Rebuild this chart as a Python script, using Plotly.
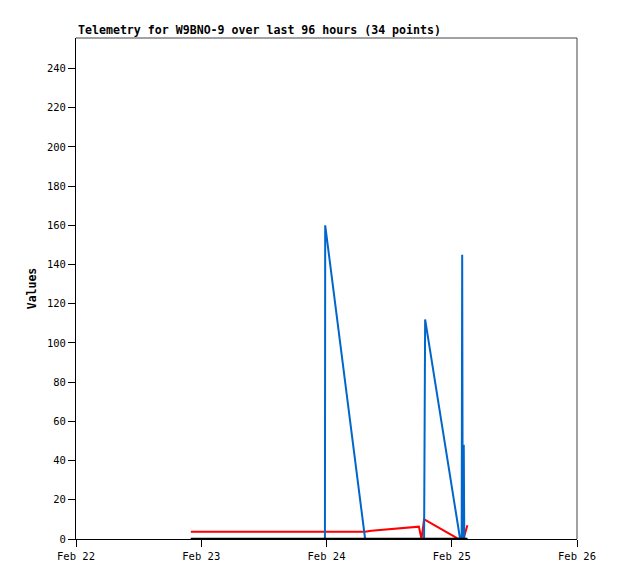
import plotly.graph_objects as go
from datetime import datetime, timedelta

# hours since 2025-02-22 00:00
hours = [22.0, 26.0, 30.0, 34.0, 38.0, 42.0, 46.0, 47.7, 47.75, 48.2,
         50.0, 52.0, 55.4, 56.6, 59.0, 61.7, 63.9, 65.7, 66.2, 66.7,
         66.9, 68.5, 70.0, 71.5, 73.1, 73.6, 73.9, 74.0, 74.1, 74.25,
         74.3, 74.4, 74.7, 75.0]
blue_vals = [0, 0, 0, 0, 0, 0, 0, 0, 160, 150.6,
             112.9, 71.1, 0, 0, 0, 0, 0, 0, 0, 0,
             112, 85.3, 60.2, 35.1, 8.4, 0, 0, 145, 0, 0,
             48, 0, 0, 0]
red_vals = [3.7, 3.7, 3.7, 3.7, 3.7, 3.7, 3.7, 3.7, 3.7, 3.7,
            3.7, 3.7, 3.7, 4.2, 4.8, 5.3, 5.8, 6.3, 0, 10,
            9.7, 7.3, 5.0, 2.7, 0.3, 0, 0, 0, 0, 0,
            0.5, 1.5, 4.5, 7]
black_vals = [0] * len(hours)

title_text = "Telemetry for W9BNO-9 over last 96 hours (34 points)"
y_label = "Values"
x_start = "2025-02-22"
x_end = "2025-02-26"

base = datetime(2025, 2, 22)
times = [base + timedelta(hours=h) for h in hours]

fig = go.Figure()
fig.add_trace(go.Scatter(x=times, y=red_vals, mode="lines",
                         line=dict(color="#ff0000", width=2), showlegend=False))
fig.add_trace(go.Scatter(x=times, y=blue_vals, mode="lines",
                         line=dict(color="#0066cc", width=2), showlegend=False))
fig.add_trace(go.Scatter(x=times, y=black_vals, mode="lines",
                         line=dict(color="#000000", width=2.5), showlegend=False))

mono = "DejaVu Sans Mono"
fig.update_layout(
    width=610, height=571,
    margin=dict(l=68, r=41, t=30, b=40),
    paper_bgcolor="white", plot_bgcolor="white",
    font=dict(family=mono, size=10.5, color="black"),
    xaxis=dict(
        type="date", range=[x_start, x_end], dtick=86400000,
        tickformat="%b %d", showgrid=False, zeroline=False,
        ticks="outside", ticklen=7, tickcolor="black",
        showline=True, linecolor="black", linewidth=1,
        tickfont=dict(family=mono, size=10.5), automargin=False,
    ),
    yaxis=dict(
        range=[0, 255.5], tick0=0, dtick=20, showgrid=False, zeroline=False,
        ticks="outside", ticklen=7, tickcolor="black",
        showline=True, linecolor="black", linewidth=1,
        tickfont=dict(family=mono, size=10.5), automargin=False,
        title=dict(text="<b>" + y_label + "</b>", font=dict(family=mono, size=11.5), standoff=7),
    ),
    shapes=[
        dict(type="line", xref="paper", yref="paper", x0=0, x1=1, y0=1, y1=1,
             line=dict(color="#444444", width=1)),
        dict(type="line", xref="paper", yref="paper", x0=1, x1=1, y0=0, y1=1,
             line=dict(color="#444444", width=1)),
    ],
    annotations=[
        dict(text="<b>" + title_text + "</b>", xref="paper", yref="paper",
             x=0, y=1, xanchor="left", yanchor="bottom", showarrow=False,
             font=dict(family=mono, size=11.6, color="black"), yshift=-1),
    ],
)

fig.write_html("out.html")
